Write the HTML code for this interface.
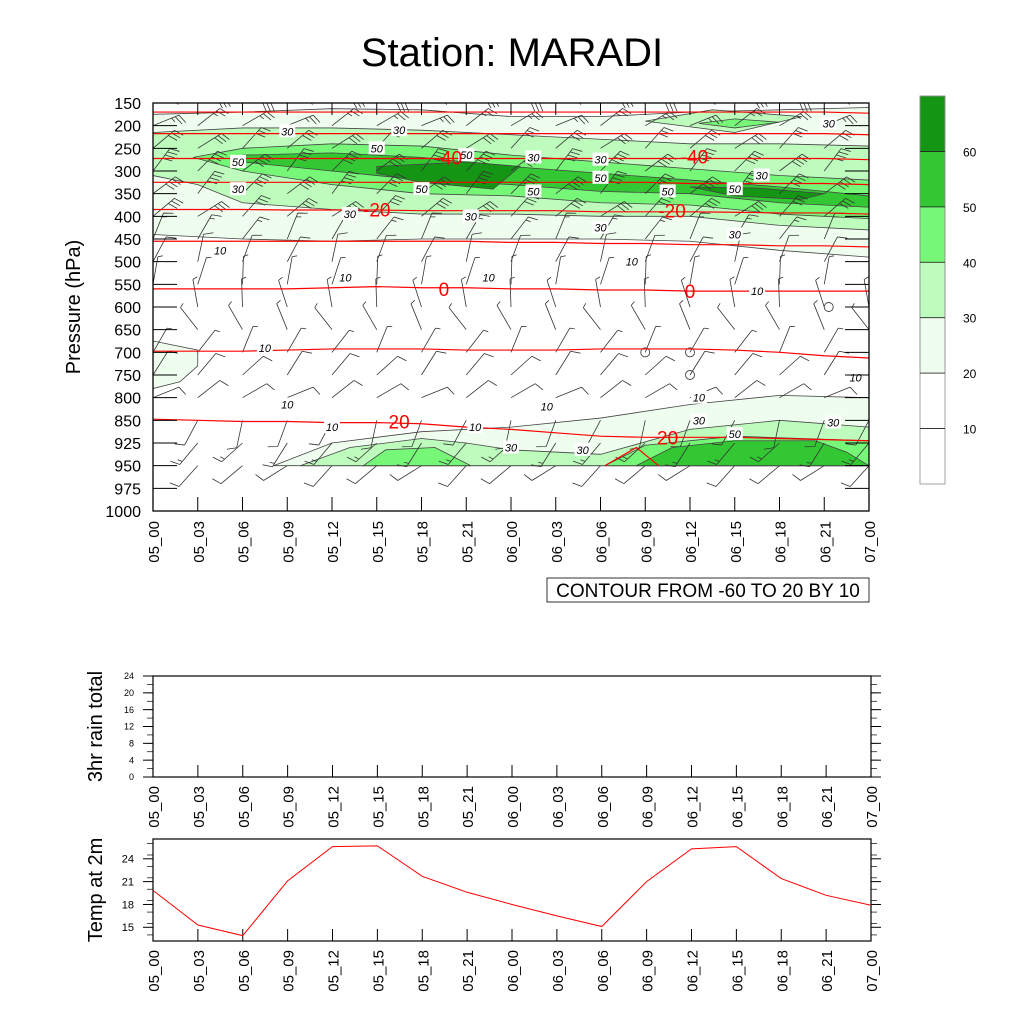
<!DOCTYPE html>
<html><head><meta charset="utf-8"><style>
body{margin:0;background:#fff;}
svg{display:block;font-family:"Liberation Sans",sans-serif;}
</style></head><body>
<svg id="s" width="1024" height="1024" viewBox="0 0 1024 1024" xmlns="http://www.w3.org/2000/svg">
<defs><clipPath id="pc"><rect x="153" y="103" width="716" height="408"/></clipPath></defs>
<text x="512" y="66" font-size="40" text-anchor="middle">Station: MARADI</text>
<g id="main"></g>
<g id="cbar"></g>
<g id="rain"></g>
<g id="temp"></g>
</svg>
<script>
const timeLabels=["05_00","05_03","05_06","05_09","05_12","05_15","05_18","05_21","06_00","06_03","06_06","06_09","06_12","06_15","06_18","06_21","07_00"];
const pressureLabels=[150,200,250,300,350,400,450,500,550,600,650,700,750,800,850,925,950,975,1000];
const temp2m=[19.85,15.3,13.9,21.1,25.6,25.7,21.7,19.6,18.0,16.5,15.1,21.0,25.3,25.6,21.4,19.2,17.9];
const rainTicks=[0,4,8,12,16,20,24];
const rainValues=[0,0,0,0,0,0,0,0,0,0,0,0,0,0,0,0,0];
const tempTicks=[15,18,21,24];
const cbarLabels=[60,50,40,30,20,10];
const cbarColors=["#149614","#33c833","#77f777","#bdfcbd","#effdef","#ffffff","#ffffff"];
const windDir=[80,60,50,45,45,50,30,20,10,350,330,30,40,60,200,220,230];
const windSpd=[30,25,30,40,40,30,15,10,8,5,5,8,10,10,10,15,12];
const fills=[
 {c:"#effdef",p:[[0,0.5],[2,0.4],[4,0.25],[6,0.3],[8,0.6],[10,0.6],[12,0.4],[14,0.3],[16,0.2],[16,6.8],[14,6.5],[12,6.1],[10,6.0],[8,6.0],[6,6.0],[4,6.1],[2,6.0],[0,5.8]]},
 {c:"#effdef",p:[[0,10.5],[1,10.9],[1,11.6],[0.6,12.3],[0,12.6]]},
 {c:"#bdfcbd",p:[[0,1.3],[2,1.1],[4,1.1],[6,1.2],[8,1.4],[10,1.6],[12,1.8],[14,1.8],[16,1.9],[16,5.6],[14,5.4],[12,5.0],[10,5.0],[8,4.9],[6,4.9],[4,4.7],[2,4.4],[1,3.6],[0,3.2]]},
 {c:"#bdfcbd",p:[[11,0.8],[12.5,0.3],[14.5,0.6],[13,1.3]]},
 {c:"#77f777",p:[[0.9,2.4],[2,2.0],[4,1.8],[6,1.9],[8,2.3],[10,2.6],[12,2.9],[14,3.2],[16,3.4],[16,5.1],[14,4.9],[12,4.5],[10,4.4],[8,4.1],[6,4.0],[4,3.6],[2,3.0]]},
 {c:"#77f777",p:[[12.2,0.9],[13,0.7],[14,0.85],[13,1.1]]},
 {c:"#33c833",p:[[2,2.3],[4,2.2],[6,2.4],[8,2.8],[10,3.1],[12,3.4],[14,3.7],[15,3.9],[16,4.1],[16,4.6],[14,4.4],[12,4.0],[10,3.9],[8,3.6],[6,3.4],[4,3.0],[2,2.6]]},
 {c:"#149614",p:[[5,2.8],[7,2.6],[8.2,2.8],[7.6,3.8],[6,3.5],[5,3.1]]},
 {c:"#149614",p:[[12,3.7],[13.5,3.75],[15,4.0],[14.5,4.25],[13,4.1]]},
 {c:"#effdef",p:[[2.7,16],[4,15.0],[6,14.5],[8,14.3],[10,13.9],[12,13.3],[14,12.9],[16,13.0],[16,16]]},
 {c:"#bdfcbd",p:[[3.3,16],[4.4,15.2],[6,14.8],[7,15.0],[8,15.3],[10,15.5],[12,14.4],[14,14.0],[16,14.3],[16,16]]},
 {c:"#77f777",p:[[4.7,16],[5.2,15.3],[6.3,15.2],[7.1,16]]},
 {c:"#77f777",p:[[10.1,16],[11,15.1],[13,14.7],[16,14.9],[16,16]]},
 {c:"#33c833",p:[[10.8,16],[11.6,15.2],[13,14.9],[14.8,14.9],[15.5,15.4],[16,16]]}
];
const isoT=[
 [0.4,0.4,0.4,0.4,0.4,0.4,0.4,0.4,0.4,0.4,0.4,0.4,0.4,0.4,0.4,0.4,0.45],
 [1.35,1.35,1.35,1.35,1.35,1.35,1.35,1.35,1.35,1.35,1.35,1.35,1.35,1.35,1.35,1.35,1.4],
 [2.45,2.45,2.45,2.45,2.45,2.45,2.45,2.45,2.45,2.45,2.45,2.45,2.45,2.45,2.45,2.45,2.5],
 [3.5,3.5,3.5,3.5,3.5,3.5,3.5,3.5,3.5,3.5,3.5,3.5,3.55,3.55,3.55,3.55,3.6],
 [4.7,4.7,4.7,4.72,4.72,4.72,4.75,4.75,4.75,4.75,4.8,4.8,4.8,4.82,4.85,4.85,4.9],
 [6.1,6.1,6.1,6.1,6.1,6.1,6.1,6.1,6.15,6.15,6.2,6.2,6.25,6.25,6.3,6.3,6.35],
 [8.2,8.2,8.2,8.2,8.15,8.1,8.15,8.15,8.2,8.2,8.25,8.25,8.3,8.3,8.3,8.3,8.3],
 [10.95,10.95,10.95,10.9,10.85,10.85,10.85,10.9,10.9,10.9,10.85,10.85,10.85,10.9,11.0,11.15,11.25],
 [13.95,14.0,14.05,14.05,14.1,14.1,14.15,14.3,14.4,14.55,14.7,14.75,14.75,14.75,14.8,14.85,14.9]
];
const isoLabels=[{t:6.6,k:2.4,s:"-40"},{t:12.1,k:2.35,s:"-40"},{t:5,k:4.7,s:"-20"},{t:11.6,k:4.75,s:"-20"},{t:6.5,k:8.2,s:"0"},{t:12,k:8.3,s:"0"},{t:5.5,k:14.05,s:"20"},{t:11.5,k:14.75,s:"20"}];
const speedLabels=[{t:3,k:1.25,s:"30"},{t:5.5,k:1.2,s:"30"},{t:1.9,k:2.6,s:"50"},{t:5,k:2.0,s:"50"},{t:7,k:2.3,s:"50"},{t:1.9,k:3.8,s:"30"},{t:4.4,k:4.9,s:"30"},{t:6,k:3.8,s:"50"},{t:7.1,k:5.0,s:"30"},{t:8.5,k:2.4,s:"30"},{t:8.5,k:3.9,s:"50"},{t:10,k:2.5,s:"30"},{t:10,k:3.3,s:"50"},{t:10,k:5.5,s:"30"},{t:11.5,k:3.9,s:"50"},{t:13,k:3.8,s:"50"},{t:13,k:5.8,s:"30"},{t:13.6,k:3.2,s:"30"},{t:15.1,k:0.9,s:"30"},{t:1.5,k:6.5,s:"10"},{t:4.3,k:7.7,s:"10"},{t:7.5,k:7.7,s:"10"},{t:10.7,k:7.0,s:"10"},{t:13.5,k:8.3,s:"10"},{t:2.5,k:10.8,s:"10"},{t:15.7,k:12.1,s:"10"},{t:12.2,k:13.0,s:"10"},{t:8.8,k:13.4,s:"10"},{t:3.0,k:13.3,s:"10"},{t:4.0,k:14.3,s:"10"},{t:7.2,k:14.3,s:"10"},{t:12.2,k:14.0,s:"30"},{t:15.2,k:14.1,s:"30"},{t:13,k:14.6,s:"50"},{t:8,k:15.2,s:"30"},{t:9.6,k:15.3,s:"30"}];
const calm=[[11,11],[12,11],[12,12],[15.1,9]];

const NS="http://www.w3.org/2000/svg";
function mk(parent,tag,attrs,name,text){const e=document.createElementNS(NS,tag);for(const k in attrs)e.setAttribute(k,attrs[k]);


if(text!==undefined)e.textContent=text;parent.appendChild(e);return e;}

const X0=153,X1=869,Y0=103,Y1=511;
const xS=t=>X0+t*(X1-X0)/16;
const yS=k=>Y0+k*(Y1-Y0)/18;
const M=document.getElementById('main');
const CL=mk(M,'g',{'clip-path':'url(#pc)'},'plot-area');
fills.forEach(f=>{mk(CL,'polygon',{points:f.p.map(q=>xS(q[0])+','+yS(q[1])).join(' '),fill:f.c,stroke:'#444','stroke-width':0.8},'contour-fill');});
for(let k=0;k<17;k++){for(let t=0;t<17;t++){
 const d=(windDir[k]+ ((t*37+k*11)%3-1)*8)*Math.PI/180, sp=windSpd[k];
 const x=xS(t),y=yS(k),L=28;
 const ex=x+Math.sin(d)*L, ey=y-Math.cos(d)*L;
 let path=`M${x},${y}L${ex},${ey}`;
 let n=Math.floor(sp/10), half=(sp%10)>=5;
 const px=Math.sin(d+Math.PI/2.6), py=-Math.cos(d+Math.PI/2.6);
 let pos=0;
 for(let i=0;i<n;i++){const bx=x+Math.sin(d)*(L-pos),by=y-Math.cos(d)*(L-pos);path+=`M${bx},${by}l${px*10},${py*10}`;pos+=4;}
 if(half){const bx=x+Math.sin(d)*(L-pos),by=y-Math.cos(d)*(L-pos);path+=`M${bx},${by}l${px*5},${py*5}`;}
 mk(CL,'path',{d:path,stroke:'#333','stroke-width':0.8,fill:'none'},'wind-barb');
}}
calm.forEach(c=>mk(CL,'circle',{cx:xS(c[0]),cy:yS(c[1]),r:4.5,fill:'none',stroke:'#444','stroke-width':0.9},'calm-circle'));
isoT.forEach(row=>mk(CL,'polyline',{points:row.map((k,t)=>xS(t)+','+yS(k)).join(' '),fill:'none',stroke:'#f00','stroke-width':1.2},'isotherm-line'));
mk(CL,'polyline',{points:[[10.1,16],[10.8,15.2],[11.3,16]].map(q=>xS(q[0])+','+yS(q[1])).join(' '),fill:'none',stroke:'#f00','stroke-width':1.2},'isotherm-line');
speedLabels.forEach(l=>{const x=xS(l.t),y=yS(l.k);mk(CL,'rect',{x:x-8,y:y-7,width:16,height:13,fill:'#fff'},'contour-label-bg');mk(CL,'text',{x:x,y:y+4,'font-size':11,'font-style':'italic','text-anchor':'middle'},'contour-label',l.s);});
isoLabels.forEach(l=>mk(CL,'text',{x:xS(l.t),y:yS(l.k)+7,'font-size':19,fill:'#f00','text-anchor':'middle'},'isotherm-label',l.s));
mk(M,'rect',{x:X0,y:Y0,width:X1-X0,height:Y1-Y0,fill:'none',stroke:'#000','stroke-width':1.3},'plot-frame');
pressureLabels.forEach((p,k)=>{const y=yS(k);
 mk(M,'line',{x1:X0,x2:X0+24,y1:y,y2:y,stroke:'#000','stroke-width':1},'y-tick');
 mk(M,'line',{x1:X1-24,x2:X1,y1:y,y2:y,stroke:'#000','stroke-width':1},'y-tick-right');
 mk(M,'text',{x:141,y:y+6,'font-size':16,'text-anchor':'end'},'y-tick-label',p);});
timeLabels.forEach((s,t)=>{const x=xS(t);
 mk(M,'line',{x1:x,x2:x,y1:Y0,y2:Y0+12,stroke:'#000','stroke-width':1},'x-tick-top');
 mk(M,'line',{x1:x,x2:x,y1:Y1-14,y2:Y1,stroke:'#000','stroke-width':1},'x-tick');
 mk(M,'text',{x:0,y:0,'font-size':15,'text-anchor':'end',transform:`translate(${x+6},${521}) rotate(-90)`},'x-tick-label',s);});
mk(M,'text',{x:0,y:0,'font-size':20,'text-anchor':'middle',transform:'translate(80,307) rotate(-90)'},'y-axis-title','Pressure (hPa)');
mk(M,'rect',{x:547,y:578,width:322,height:24,fill:'#fff',stroke:'#000','stroke-width':0.8},'contour-info-box');
mk(M,'text',{x:708,y:597,'font-size':19,'text-anchor':'middle'},'contour-info-text','CONTOUR FROM -60 TO 20 BY 10');

const C=document.getElementById('cbar');
const cbTop=96,cbH=(484-96)/7;
cbarColors.forEach((c,i)=>mk(C,'rect',{x:920,y:cbTop+i*cbH,width:25,height:cbH,fill:c,stroke:i<5?'#333':'#aaa','stroke-width':0.6},'colorbar-box'));
mk(C,'rect',{x:920,y:cbTop,width:25,height:484-96,fill:'none',stroke:'#999','stroke-width':0.8},'colorbar-frame');
cbarLabels.forEach((v,i)=>{const y=cbTop+(i+1)*cbH;mk(C,'line',{x1:920,x2:945,y1:y,y2:y,stroke:'#222','stroke-width':0.8},'colorbar-sep');mk(C,'text',{x:963,y:y+5,'font-size':12},'colorbar-label',v);});

function panel(g,top,bot,vmin,vmax,ticks,minor,title,fs){
 const yv=v=>bot-(v-vmin)/(vmax-vmin)*(bot-top);
 mk(g,'rect',{x:153,y:top,width:718,height:bot-top,fill:'none',stroke:'#000','stroke-width':1.2},'panel-frame');
 for(let v=minor[0];v<=minor[1]+1e-9;v+=minor[2]){const y=yv(v);if(y<top-0.5||y>bot+0.5)continue;
  mk(g,'line',{x1:147,x2:153,y1:y,y2:y,stroke:'#000','stroke-width':0.7},'minor-tick');mk(g,'line',{x1:871,x2:877,y1:y,y2:y,stroke:'#000','stroke-width':0.7},'minor-tick-right');}
 ticks.forEach(v=>{const y=yv(v);mk(g,'line',{x1:143,x2:153,y1:y,y2:y,stroke:'#000','stroke-width':1},'y-tick');
  mk(g,'line',{x1:871,x2:881,y1:y,y2:y,stroke:'#000','stroke-width':1},'y-tick-right');
  mk(g,'text',{x:134,y:y+(fs/2.8),'font-size':fs,'text-anchor':'end'},'y-tick-label',v);});
 const xs=t=>153+t*718/16;
 timeLabels.forEach((s,t)=>{const x=xs(t);mk(g,'line',{x1:x,x2:x,y1:bot-12,y2:bot,stroke:'#000','stroke-width':1},'x-tick');
  mk(g,'text',{x:0,y:0,'font-size':15,'text-anchor':'end',transform:`translate(${x+6},${bot+9}) rotate(-90)`},'x-tick-label',s);});
 mk(g,'text',{x:0,y:0,'font-size':20,'text-anchor':'middle',transform:`translate(102,${(top+bot)/2}) rotate(-90)`},'y-axis-title',title);
 return {yv,xs};
}
const R=document.getElementById('rain');
const rp=panel(R,676,777,0,24,rainTicks,[0,26,2],'3hr rain total',9);
mk(R,'polyline',{points:rainValues.map((v,t)=>rp.xs(t)+','+rp.yv(v)).join(' '),fill:'none',stroke:'#000','stroke-width':1},'rain-line');
const T=document.getElementById('temp');
const tp=panel(T,839,941,13.2,26.6,tempTicks,[14,26,1.5],'Temp at 2m',11);
mk(T,'polyline',{points:temp2m.map((v,t)=>tp.xs(t)+','+tp.yv(v)).join(' '),fill:'none',stroke:'#f00','stroke-width':1},'temp-line');
</script>
</body></html>
